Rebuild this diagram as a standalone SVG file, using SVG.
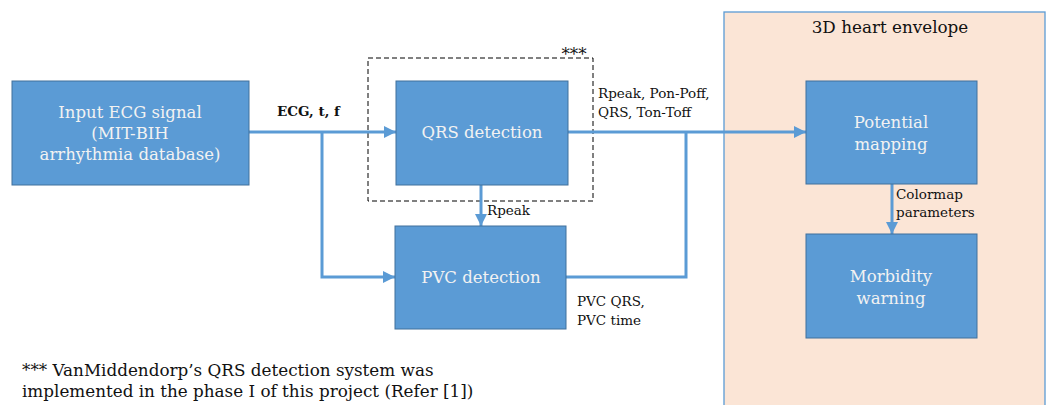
<svg xmlns="http://www.w3.org/2000/svg" width="1046" height="405" viewBox="0 0 1046 405">
<style>
.box{fill:#5B9BD5;stroke:#41719C;stroke-width:1}
.bt{font-family:"DejaVu Serif","Liberation Serif",serif;font-size:16.5px;fill:#F2F2F2;text-anchor:middle}
.lb{font-family:"DejaVu Serif","Liberation Serif",serif;font-size:13.5px;fill:#111}
.ft{font-family:"DejaVu Serif","Liberation Serif",serif;font-size:16.8px;fill:#111}
.cn{fill:none;stroke:#5B9BD5;stroke-width:3}
</style>
<defs>
<marker id="ah" markerWidth="12" markerHeight="12" refX="12" refY="6" orient="auto" markerUnits="userSpaceOnUse">
<path d="M0,0 L12,6 L0,12 z" fill="#5B9BD5"/>
</marker>
</defs>
<rect width="1046" height="405" fill="#fff"/>
<g id="envelope">
<rect x="724" y="12" width="321" height="400" fill="#FBE5D6" stroke="#5B9BD5" stroke-width="1.3"/>
<text x="890" y="33" class="ft" text-anchor="middle" font-size="16">3D heart envelope</text>
</g>
<g id="qrs-group">
<rect x="368" y="58" width="225" height="143" fill="none" stroke="#000" stroke-width="1" stroke-dasharray="5,3"/>
<text x="574" y="60" class="ft" text-anchor="middle" font-size="16">***</text>
</g>
<g id="connectors">
<path class="cn" d="M249,132 H396" marker-end="url(#ah)"/>
<path class="cn" d="M322,132 V277 H395" marker-end="url(#ah)"/>
<path class="cn" d="M568,132 H806" marker-end="url(#ah)"/>
<path class="cn" d="M566,277 H686 V132"/>
<path class="cn" d="M481,185 V226" marker-end="url(#ah)"/>
<path class="cn" d="M892,184 V234" marker-end="url(#ah)"/>
</g>
<g id="labels">
<text x="277" y="116" class="lb" font-weight="bold" font-size="13">ECG, t, f</text>
<text x="598" y="98" class="lb" font-size="14.5">Rpeak, Pon-Poff,</text>
<text x="598" y="117" class="lb" font-size="14.5">QRS, Ton-Toff</text>
<text x="487" y="215" class="lb">Rpeak</text>
<text x="577" y="306" class="lb">PVC QRS,</text>
<text x="577" y="325" class="lb">PVC time</text>
<text x="896" y="199" class="lb">Colormap</text>
<text x="896" y="217" class="lb">parameters</text>
</g>
<g id="input">
<rect class="box" x="12" y="81" width="237" height="104"/>
<text class="bt" x="130" y="118">Input ECG signal</text>
<text class="bt" x="130" y="139">(MIT-BIH</text>
<text class="bt" x="130" y="160">arrhythmia database)</text>
</g>
<g id="qrs">
<rect class="box" x="396" y="81" width="172" height="104"/>
<text class="bt" x="482" y="138">QRS detection</text>
</g>
<g id="pvc">
<rect class="box" x="395" y="226" width="171" height="103"/>
<text class="bt" x="481" y="283">PVC detection</text>
</g>
<g id="potential">
<rect class="box" x="806" y="81" width="171" height="103"/>
<text class="bt" x="891" y="128">Potential</text>
<text class="bt" x="891" y="150">mapping</text>
</g>
<g id="morbidity">
<rect class="box" x="806" y="234" width="171" height="104"/>
<text class="bt" x="891" y="282">Morbidity</text>
<text class="bt" x="891" y="304">warning</text>
</g>
<g id="footnote">
<text x="22" y="376" class="ft">*** VanMiddendorp’s QRS detection system was</text>
<text x="22" y="397" class="ft">implemented in the phase I of this project (Refer [1])</text>
</g>
</svg>
